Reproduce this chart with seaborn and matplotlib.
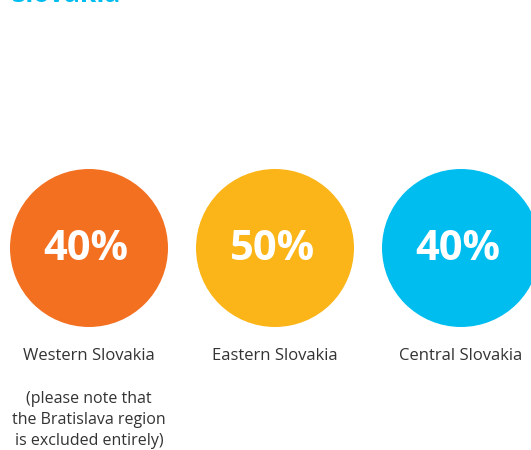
import matplotlib
matplotlib.use("Agg")
import matplotlib.pyplot as plt
import seaborn as sns
import pandas as pd

regions = ["Western Slovakia", "Eastern Slovakia", "Central Slovakia"]
values = [40, 50, 40]
colors = ["#F37021", "#FBB518", "#00BDF0"]
note = "(please note that\nthe Bratislava region\nis excluded entirely)"
title = "Slovakia"

df = pd.DataFrame({"region": regions, "value": values, "idx": range(len(regions))})
df["y"] = 248

sns.set_style("white")
plt.rcParams['font.family'] = ['Open Sans', 'DejaVu Sans']

DPI = 100
fig = plt.figure(figsize=(5.31, 4.5), dpi=DPI)
ax = fig.add_axes([0, 0, 1, 1])
ax.set_xlim(-89 / 186, (531 - 89) / 186)
ax.set_ylim(450, 0)
ax.axis("off")

diam_pt = 158 * 72 / DPI
sns.scatterplot(data=df, x="idx", y="y", hue="region", palette=colors,
                s=diam_pt ** 2, linewidth=0, legend=False, ax=ax, clip_on=False)

for i, (r, v) in enumerate(zip(regions, values)):
    ax.text(i - 3 / 186, 250, f"{v}%", color="white", fontsize=30, fontweight="bold",
            ha="center", va="center")
    ax.text(i, 356, r, color="#333333", fontsize=12, ha="center", va="center")

ax.text(0, 420, note, color="#333333", fontsize=11.5, ha="center", va="center",
        linespacing=1.45)

ax.text(-89 / 186 + 12 / 186, 1.5, title, color="#00BDF0", fontsize=19,
        fontweight="bold", ha="left", va="baseline")

fig.savefig("out.png", dpi=DPI)
